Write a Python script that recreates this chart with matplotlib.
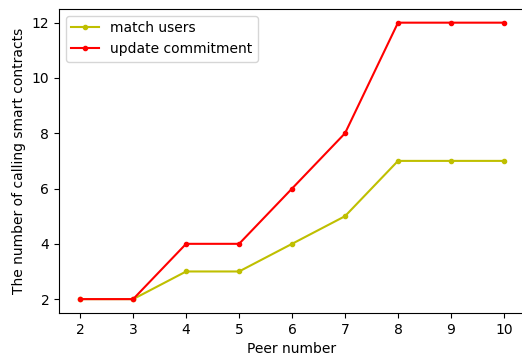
import matplotlib.pyplot as plt

peers = [2, 3, 4, 5, 6, 7, 8, 9, 10]
match_users = [2, 2, 3, 3, 4, 5, 7, 7, 7]
update_commitment = [2, 2, 4, 4, 6, 8, 12, 12, 12]

fig = plt.figure(figsize=(5.22, 3.54), dpi=100)
ax = fig.add_axes([0.113, 0.116, 0.893, 0.859])

ax.plot(peers, match_users, 'y.-', label='match users')
ax.plot(peers, update_commitment, 'r.-', label='update commitment')

ax.set_xlabel('Peer number')
ax.set_ylabel('The number of calling smart contracts')
ax.set_xticks(peers)
ax.legend(loc='upper left')

fig.savefig('out.png', dpi=100)
